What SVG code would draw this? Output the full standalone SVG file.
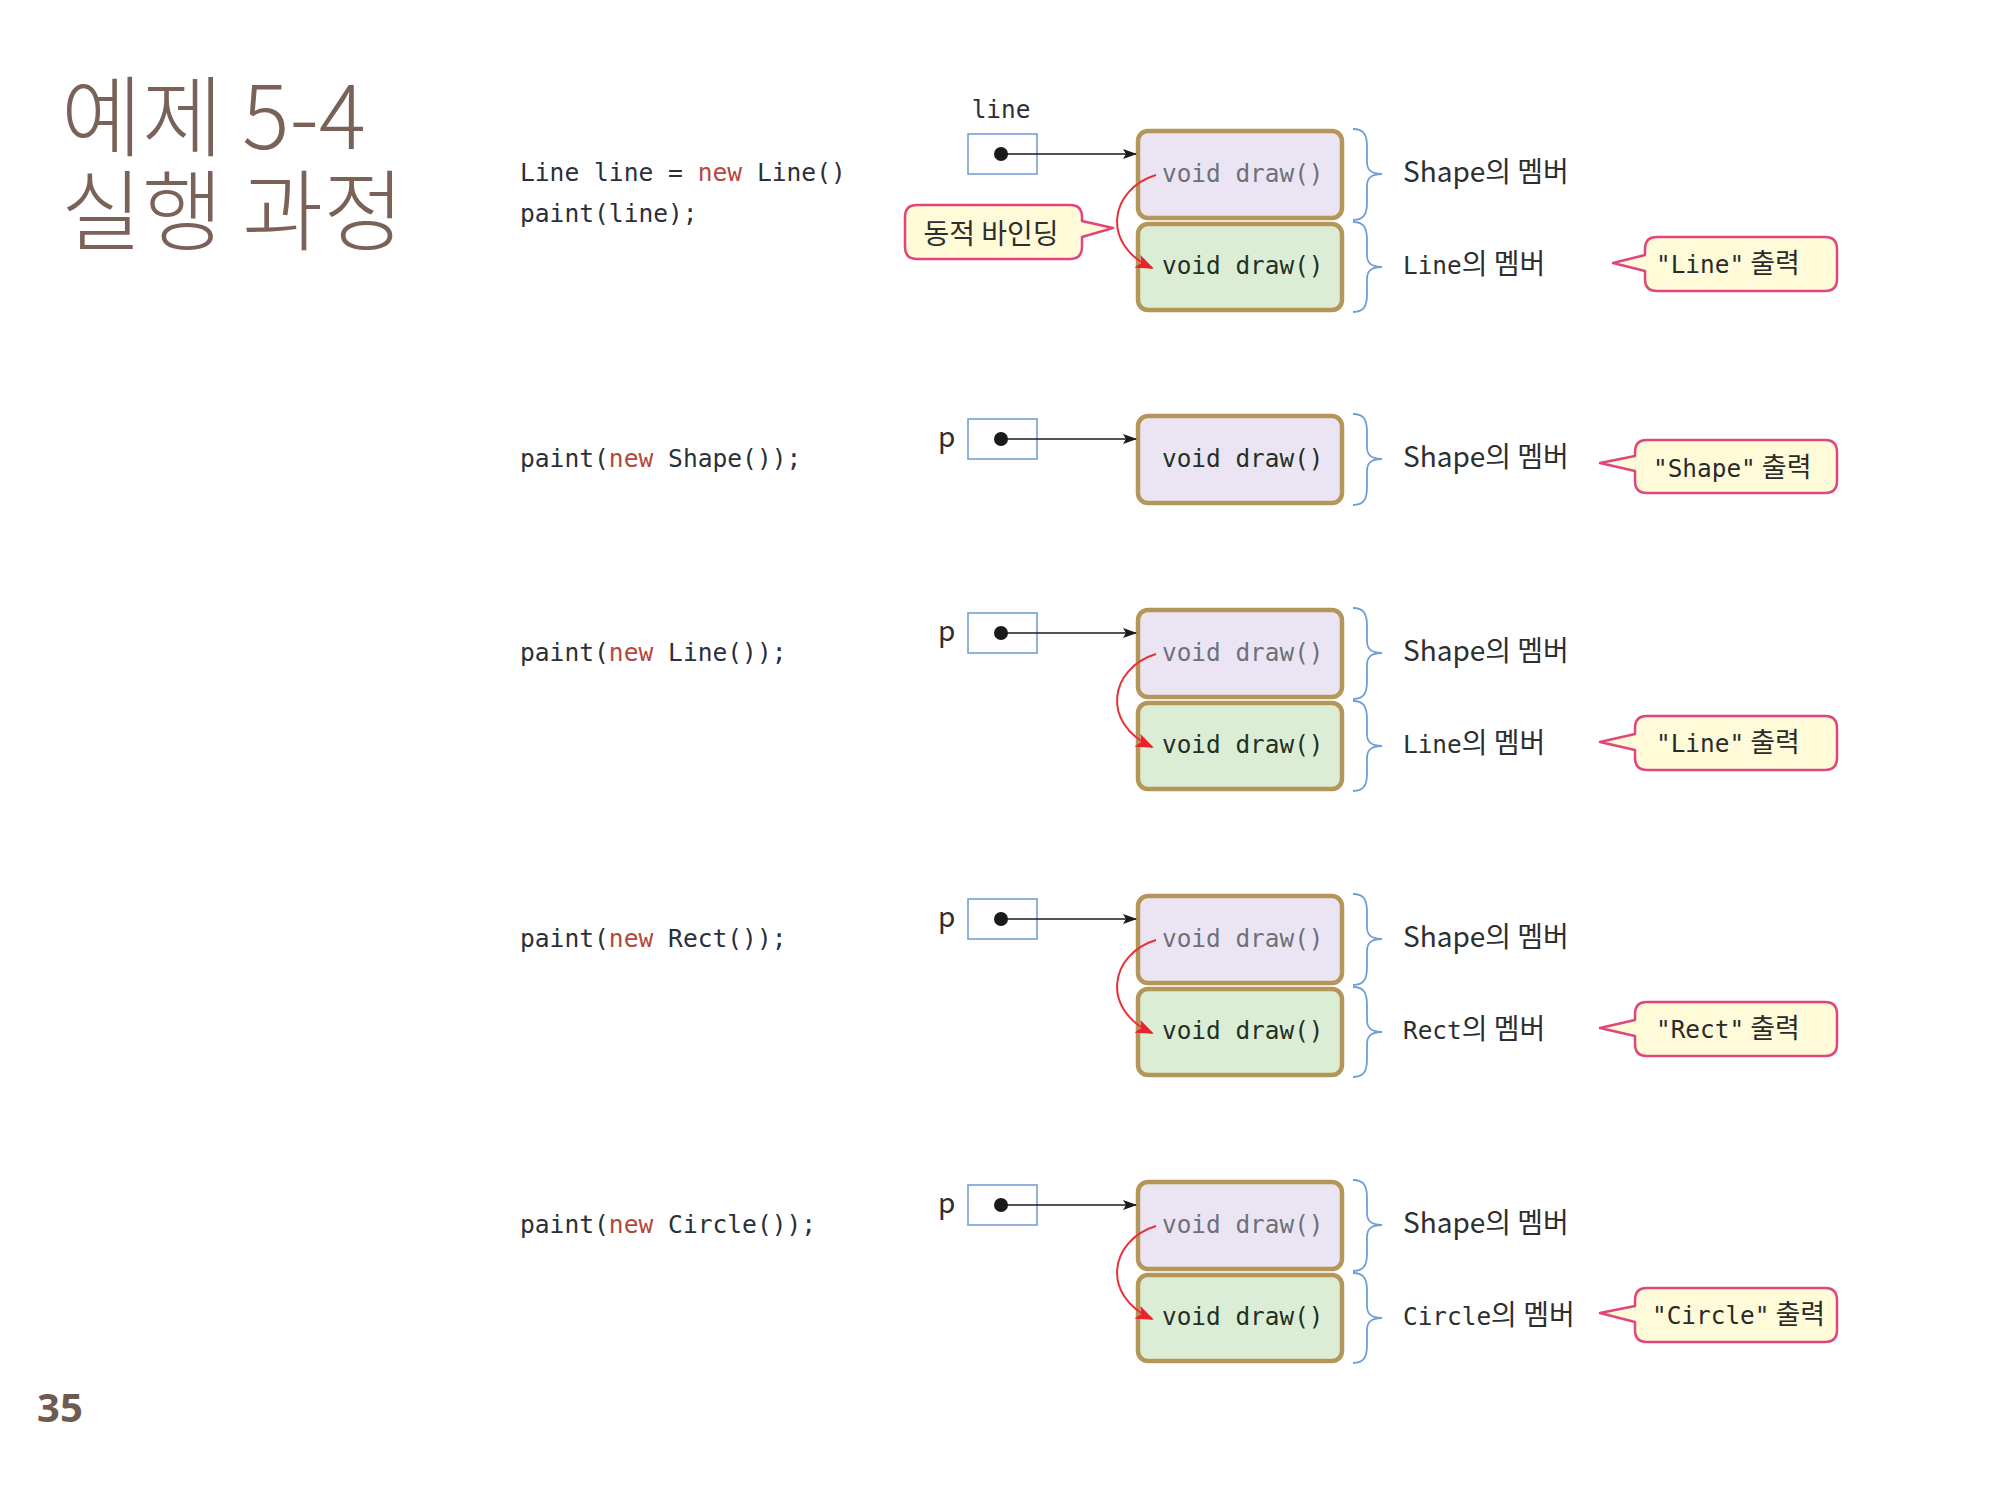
<svg xmlns="http://www.w3.org/2000/svg" width="2000" height="1500" viewBox="0 0 2000 1500">
<style>
.title{font-family:"Noto Sans CJK KR","Noto Sans",sans-serif;font-size:88px;font-weight:300;fill:#7a6259}
.pg{font-family:"Noto Sans","Open Sans",sans-serif;font-size:40px;font-weight:700;fill:#6f5a52}
.code{font-family:"DejaVu Sans Mono","Liberation Mono",monospace;font-size:24.6px;fill:#2b2f38}
.kw{fill:#b5473c}
.mono{font-family:"DejaVu Sans Mono","Liberation Mono",monospace;font-size:24.4px}
.ko{font-family:"Noto Sans CJK KR","Noto Sans",sans-serif;font-size:27px}
.lbl{font-family:"Noto Sans CJK KR","Noto Sans",sans-serif;font-size:28px;fill:#2e2e2e}
.ptr{fill:#ffffff;stroke:#6b9bd2;stroke-width:1.5}
.dot{fill:#1a1a1a}
.b1{fill:#ebe5f3;stroke:#b39658;stroke-width:4.5}
.b2{fill:#dcedd5;stroke:#b39658;stroke-width:4.5}
.t1{font-family:"DejaVu Sans Mono","Liberation Mono",monospace;font-size:24.4px;fill:#6e7079}
.t2{font-family:"DejaVu Sans Mono","Liberation Mono",monospace;font-size:24.4px;fill:#243024}
.brace{fill:none;stroke:#6f9fd6;stroke-width:1.8}
.call{fill:#fffbd8;stroke:#e2457c;stroke-width:2.5;stroke-linejoin:round}
.ct{fill:#2a2a2a}
.arr{stroke:#1a1a1a;stroke-width:1.5;fill:none}
.red{stroke:#e8303a;stroke-width:2;fill:none}
</style>
<defs>
<marker id="ah" markerUnits="userSpaceOnUse" markerWidth="14" markerHeight="10" refX="13" refY="5" orient="auto"><path d="M0,0 L14,5 L0,10 L3,5 Z" fill="#1a1a1a"/></marker>
<marker id="rah" markerUnits="userSpaceOnUse" markerWidth="18" markerHeight="14" refX="16" refY="7" orient="auto"><path d="M0,0 L18,7 L0,14 L4,7 Z" fill="#e8232c"/></marker>
</defs>
<rect width="2000" height="1500" fill="#ffffff"/>

<g id="title">
<text class="title"><tspan x="61" y="149">예제 5-4</tspan><tspan x="61" y="243">실행 과정</tspan></text>
</g>
<g id="page"><text class="pg" x="37" y="1422">35</text></g>

<!-- code -->
<g id="code1"><text class="code" x="520" y="181">Line line = <tspan class="kw">new</tspan> Line()</text><text class="code" x="520" y="222">paint(line);</text></g>
<g id="code2"><text class="code" x="520" y="467">paint(<tspan class="kw">new</tspan> Shape());</text></g>
<g id="code3"><text class="code" x="520" y="661">paint(<tspan class="kw">new</tspan> Line());</text></g>
<g id="code4"><text class="code" x="520" y="947">paint(<tspan class="kw">new</tspan> Rect());</text></g>
<g id="code5"><text class="code" x="520" y="1233">paint(<tspan class="kw">new</tspan> Circle());</text></g>

<!-- pointers -->
<g id="ptr1"><text class="mono" x="1001" y="118" text-anchor="middle" fill="#2b2f38">line</text><rect class="ptr" x="968" y="134" width="69" height="40"/><circle class="dot" cx="1001" cy="154" r="7"/></g>
<g id="ptr2"><text class="lbl" x="938" y="447">p</text><rect class="ptr" x="968" y="419" width="69" height="40"/><circle class="dot" cx="1001" cy="439" r="7"/></g>
<g id="ptr3"><text class="lbl" x="938" y="641">p</text><rect class="ptr" x="968" y="613" width="69" height="40"/><circle class="dot" cx="1001" cy="633" r="7"/></g>
<g id="ptr4"><text class="lbl" x="938" y="927">p</text><rect class="ptr" x="968" y="899" width="69" height="40"/><circle class="dot" cx="1001" cy="919" r="7"/></g>
<g id="ptr5"><text class="lbl" x="938" y="1213">p</text><rect class="ptr" x="968" y="1185" width="69" height="40"/><circle class="dot" cx="1001" cy="1205" r="7"/></g>

<!-- objects -->
<g id="obj1">
<rect class="b1" x="1138" y="131" width="204" height="87" rx="10"/>
<rect class="b2" x="1138" y="224" width="204" height="86" rx="10"/>
<text class="t1" x="1162" y="182">void draw()</text>
<text class="t2" x="1162" y="274">void draw()</text>
</g>
<g id="obj2">
<rect class="b1" x="1138" y="416" width="204" height="87" rx="10"/>
<text class="t2" x="1162" y="467">void draw()</text>
</g>
<g id="obj3">
<rect class="b1" x="1138" y="610" width="204" height="87" rx="10"/>
<rect class="b2" x="1138" y="703" width="204" height="86" rx="10"/>
<text class="t1" x="1162" y="661">void draw()</text>
<text class="t2" x="1162" y="753">void draw()</text>
</g>
<g id="obj4">
<rect class="b1" x="1138" y="896" width="204" height="87" rx="10"/>
<rect class="b2" x="1138" y="989" width="204" height="86" rx="10"/>
<text class="t1" x="1162" y="947">void draw()</text>
<text class="t2" x="1162" y="1039">void draw()</text>
</g>
<g id="obj5">
<rect class="b1" x="1138" y="1182" width="204" height="87" rx="10"/>
<rect class="b2" x="1138" y="1275" width="204" height="86" rx="10"/>
<text class="t1" x="1162" y="1233">void draw()</text>
<text class="t2" x="1162" y="1325">void draw()</text>
</g>

<!-- braces and member labels -->
<g id="members1">
<path class="brace" d="M1353,129 C1364,129 1367,135 1367,147 L1367,162 C1367,170 1371,174 1382,174 C1371,174 1367,178 1367,186 L1367,202 C1367,214 1364,220 1353,220"/>
<path class="brace" d="M1353,222 C1364,222 1367,228 1367,240 L1367,255 C1367,263 1371,267 1382,267 C1371,267 1367,271 1367,279 L1367,294 C1367,306 1364,312 1353,312"/>
<text class="lbl" x="1403" y="182">Shape의 멤버</text>
<text class="lbl" x="1403" y="274"><tspan class="mono">Line</tspan>의 멤버</text>
</g>
<g id="members2">
<path class="brace" d="M1353,414 C1364,414 1367,420 1367,432 L1367,447 C1367,455 1371,459 1382,459 C1371,459 1367,463 1367,471 L1367,487 C1367,499 1364,505 1353,505"/>
<text class="lbl" x="1403" y="467">Shape의 멤버</text>
</g>
<g id="members3">
<path class="brace" d="M1353,608 C1364,608 1367,614 1367,626 L1367,641 C1367,649 1371,653 1382,653 C1371,653 1367,657 1367,665 L1367,681 C1367,693 1364,699 1353,699"/>
<path class="brace" d="M1353,701 C1364,701 1367,707 1367,719 L1367,734 C1367,742 1371,746 1382,746 C1371,746 1367,750 1367,758 L1367,773 C1367,785 1364,791 1353,791"/>
<text class="lbl" x="1403" y="661">Shape의 멤버</text>
<text class="lbl" x="1403" y="753"><tspan class="mono">Line</tspan>의 멤버</text>
</g>
<g id="members4">
<path class="brace" d="M1353,894 C1364,894 1367,900 1367,912 L1367,927 C1367,935 1371,939 1382,939 C1371,939 1367,943 1367,951 L1367,967 C1367,979 1364,985 1353,985"/>
<path class="brace" d="M1353,987 C1364,987 1367,993 1367,1005 L1367,1020 C1367,1028 1371,1032 1382,1032 C1371,1032 1367,1036 1367,1044 L1367,1059 C1367,1071 1364,1077 1353,1077"/>
<text class="lbl" x="1403" y="947">Shape의 멤버</text>
<text class="lbl" x="1403" y="1039"><tspan class="mono">Rect</tspan>의 멤버</text>
</g>
<g id="members5">
<path class="brace" d="M1353,1180 C1364,1180 1367,1186 1367,1198 L1367,1213 C1367,1221 1371,1225 1382,1225 C1371,1225 1367,1229 1367,1237 L1367,1253 C1367,1265 1364,1271 1353,1271"/>
<path class="brace" d="M1353,1273 C1364,1273 1367,1279 1367,1291 L1367,1306 C1367,1314 1371,1318 1382,1318 C1371,1318 1367,1322 1367,1330 L1367,1345 C1367,1357 1364,1363 1353,1363"/>
<text class="lbl" x="1403" y="1233">Shape의 멤버</text>
<text class="lbl" x="1403" y="1325"><tspan class="mono">Circle</tspan>의 멤버</text>
</g>

<!-- callouts -->
<g id="binding">
<path class="call" d="M917,205 H1070 Q1082,205 1082,217 V221 L1113,228 L1082,237 V247 Q1082,259 1070,259 H917 Q905,259 905,247 V217 Q905,205 917,205 Z"/>
<text class="lbl" x="991" y="244" text-anchor="middle">동적 바인딩</text>
</g>
<g id="out1">
<path class="call" d="M1657,237 H1825 Q1837,237 1837,249 V279 Q1837,291 1825,291 H1657 Q1645,291 1645,279 V271 L1613,263 L1645,255 V249 Q1645,237 1657,237 Z"/>
<text class="ct" x="1656" y="273"><tspan class="mono">"Line"</tspan><tspan class="ko"> 출력</tspan></text>
</g>
<g id="out2">
<path class="call" d="M1647,440 H1825 Q1837,440 1837,452 V481 Q1837,493 1825,493 H1647 Q1635,493 1635,481 V471 L1600,463 L1635,456 V452 Q1635,440 1647,440 Z"/>
<text class="ct" x="1653" y="477"><tspan class="mono">"Shape"</tspan><tspan class="ko"> 출력</tspan></text>
</g>
<g id="out3">
<path class="call" d="M1647,716 H1825 Q1837,716 1837,728 V758 Q1837,770 1825,770 H1647 Q1635,770 1635,758 V750 L1600,742 L1635,734 V728 Q1635,716 1647,716 Z"/>
<text class="ct" x="1656" y="752"><tspan class="mono">"Line"</tspan><tspan class="ko"> 출력</tspan></text>
</g>
<g id="out4">
<path class="call" d="M1647,1002 H1825 Q1837,1002 1837,1014 V1044 Q1837,1056 1825,1056 H1647 Q1635,1056 1635,1044 V1036 L1600,1028 L1635,1020 V1014 Q1635,1002 1647,1002 Z"/>
<text class="ct" x="1656" y="1038"><tspan class="mono">"Rect"</tspan><tspan class="ko"> 출력</tspan></text>
</g>
<g id="out5">
<path class="call" d="M1647,1288 H1825 Q1837,1288 1837,1300 V1330 Q1837,1342 1825,1342 H1647 Q1635,1342 1635,1330 V1322 L1600,1313 L1635,1306 V1300 Q1635,1288 1647,1288 Z"/>
<text class="ct" x="1652" y="1324"><tspan class="mono">"Circle"</tspan><tspan class="ko"> 출력</tspan></text>
</g>

<!-- connectors -->
<g id="connectors">
<line class="arr" x1="1001" y1="154" x2="1136" y2="154" marker-end="url(#ah)"/>
<line class="arr" x1="1001" y1="439" x2="1136" y2="439" marker-end="url(#ah)"/>
<line class="arr" x1="1001" y1="633" x2="1136" y2="633" marker-end="url(#ah)"/>
<line class="arr" x1="1001" y1="919" x2="1136" y2="919" marker-end="url(#ah)"/>
<line class="arr" x1="1001" y1="1205" x2="1136" y2="1205" marker-end="url(#ah)"/>
<path class="red" d="M1156,175 C1110,189 1100,244 1152,268" marker-end="url(#rah)"/>
<path class="red" d="M1156,654 C1110,668 1100,723 1152,747" marker-end="url(#rah)"/>
<path class="red" d="M1156,940 C1110,954 1100,1009 1152,1033" marker-end="url(#rah)"/>
<path class="red" d="M1156,1226 C1110,1240 1100,1295 1152,1319" marker-end="url(#rah)"/>
</g>
</svg>
